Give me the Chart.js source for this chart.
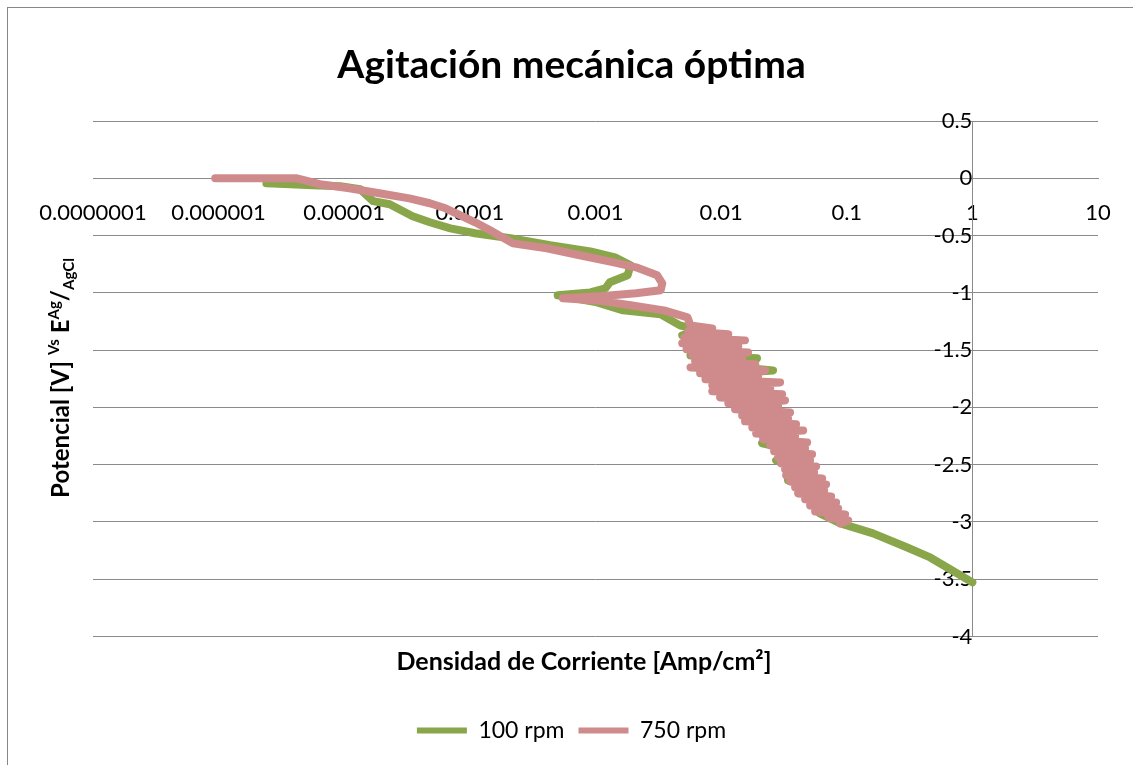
<!DOCTYPE html>
<html>
<head>
<meta charset="utf-8">
<script src="https://cdn.jsdelivr.net/npm/chart.js@4.4.1/dist/chart.umd.min.js"></script>
<style>
  html, body { margin: 0; padding: 0; background: #fff; }
  #wrap { width: 1133px; height: 765px; }
</style>
</head>
<body>
<div id="wrap"><canvas id="polChart" width="1133" height="765"></canvas></div>
<script>
const chartTitle = 'Agitación mecánica óptima';
const xTitle = 'Densidad de Corriente [Amp/cm²]';
const seriesNames = ['100 rpm', '750 rpm'];
const xTickValues = [1e-7, 1e-6, 1e-5, 1e-4, 1e-3, 1e-2, 1e-1, 1, 10];
const xTickLabels = ['0.0000001', '0.000001', '0.00001', '0.0001', '0.001', '0.01', '0.1', '1', '10'];

// 100 rpm : current density [A/cm2] and potential [V]
const cur100 = [2.4e-6, 3.7e-6, 5.6e-6, 9.3e-6, 1.34e-5, 1.7e-5, 2.3e-5, 3.5e-5, 4.8e-5, 7.0e-5,
  1.1e-4, 2.1e-4, 4.35e-4, 9.1e-4, 1.43e-3, 1.9e-3, 1.8e-3, 1.3e-3, 1.2e-3, 9.1e-4,
  5.0e-4, 1.03e-3, 1.66e-3, 3.3e-3, 4.7e-3,
  6.8e-3, 4.9e-3, 9.0e-3, 5.3e-3, 1.18e-2, 5.7e-3, 1.93e-2, 6.6e-3, 2.59e-2, 7.5e-3,
  1.7e-2, 9.0e-3, 2.04e-2, 1.04e-2, 2.24e-2, 1.34e-2, 2.69e-2, 1.93e-2, 3.23e-2, 2.12e-2,
  3.88e-2, 2.74e-2, 4.66e-2, 3.41e-2, 5.6e-2, 4.8e-2, 6.73e-2, 6.1e-2, 8.9e-2,
  0.162, 0.303, 0.461, 0.63, 1.0];
const pot100 = [-0.044, -0.052, -0.061, -0.07, -0.096, -0.2, -0.227, -0.332, -0.384, -0.437,
  -0.48, -0.524, -0.585, -0.638, -0.69, -0.76, -0.847, -0.908, -0.96, -0.996,
  -1.022, -1.083, -1.153, -1.188, -1.284,
  -1.328, -1.371, -1.415, -1.459, -1.502, -1.546, -1.572, -1.616, -1.677, -1.72,
  -1.764, -1.808, -1.852, -1.895, -1.939, -1.983, -2.07, -2.14, -2.201, -2.314,
  -2.376, -2.463, -2.55, -2.638, -2.707, -2.786, -2.856, -2.926, -3.013,
  -3.1, -3.223, -3.31, -3.397, -3.528];

// 750 rpm
const cur750 = [9.4e-7, 4.2e-6, 6.4e-6, 1.1e-5, 1.9e-5, 3.3e-5, 4.8e-5, 6.4e-5, 8.4e-5, 1.1e-4,
  1.45e-4, 2.2e-4, 4.1e-4, 7.5e-4, 1.4e-3, 2.1e-3, 3.1e-3, 3.4e-3, 3.3e-3, 2.1e-3,
  1.09e-3, 5.5e-4, 1.03e-3, 1.9e-3, 3.5e-3, 5.4e-3,
  5.7e-3, 8.5e-3, 5.5e-3, 1.14e-2, 5.1e-3, 1.55e-2, 4.9e-3, 1.37e-2, 5.3e-3, 1.64e-2,
  5.9e-3, 1.47e-2, 6.2e-3, 1.87e-2, 5.7e-3, 2.24e-2, 6.8e-3, 1.97e-2, 7.5e-3, 2.95e-2,
  8.5e-3, 2.46e-2, 8.5e-3, 3.06e-2, 9.8e-3, 3.23e-2, 1.14e-2, 2.84e-2, 1.29e-2, 3.54e-2,
  1.47e-2, 3.41e-2, 1.55e-2, 3.95e-2, 1.77e-2, 4.5e-2, 1.9e-2, 3.88e-2, 2.16e-2, 4.84e-2,
  2.46e-2, 4.66e-2, 2.64e-2, 5.3e-2, 2.84e-2, 5.11e-2, 3.0e-2, 5.71e-2, 3.23e-2, 5.5e-2,
  3.29e-2, 6.37e-2, 3.54e-2, 6.85e-2, 3.88e-2, 6.61e-2, 4.1e-2, 7.51e-2, 4.66e-2, 8.23e-2,
  5.11e-2, 8.54e-2, 5.6e-2, 9.71e-2, 7.11e-2, 0.1026, 8.86e-2];
const pot750 = [0, 0, -0.052, -0.087, -0.131, -0.175, -0.218, -0.262, -0.323, -0.384,
  -0.454, -0.568, -0.611, -0.672, -0.734, -0.777, -0.847, -0.917, -0.978, -1.004,
  -1.03, -1.048, -1.066, -1.109, -1.153, -1.214,
  -1.284, -1.31, -1.336, -1.362, -1.389, -1.415, -1.441, -1.467, -1.493, -1.52,
  -1.546, -1.572, -1.598, -1.624, -1.651, -1.677, -1.703, -1.729, -1.755, -1.782,
  -1.808, -1.834, -1.86, -1.886, -1.913, -1.939, -1.965, -1.991, -2.017, -2.044,
  -2.07, -2.096, -2.122, -2.148, -2.175, -2.201, -2.227, -2.253, -2.279, -2.306,
  -2.332, -2.358, -2.384, -2.41, -2.437, -2.463, -2.489, -2.515, -2.541, -2.568,
  -2.594, -2.62, -2.646, -2.672, -2.699, -2.725, -2.751, -2.777, -2.803, -2.83,
  -2.856, -2.882, -2.908, -2.934, -2.961, -2.987, -3.013];

const toPoints = (xs, ys) => xs.map((x, i) => ({x: x, y: ys[i]}));

Chart.defaults.font.family = 'Lato';
Chart.defaults.color = '#000';

const gridGray = '#8a8a8a';

// axis titles with super/subscripts + outer frame
const extras = {
  id: 'extras',
  afterDraw(chart) {
    const ctx = chart.ctx;
    ctx.save();
    ctx.strokeStyle = '#878787';
    ctx.lineWidth = 1;
    ctx.strokeRect(7.5, 7.5, 1200, 800);

    ctx.fillStyle = '#000';
    ctx.font = 'bold 25px Lato';
    ctx.textAlign = 'center';
    ctx.textBaseline = 'middle';
    ctx.fillText(xTitle, 584, 662);

    const parts = [
      ['Potencial [V] ', 24, 0],
      ['Vs', 15, -10],
      [' E', 24, 0],
      ['Ag', 15, -10],
      ['/', 24, 0],
      ['AgCl', 15, 5]
    ];
    let total = 0;
    parts.forEach(p => { ctx.font = 'bold ' + p[1] + 'px Lato'; p.push(ctx.measureText(p[0]).width); total += p[3]; });
    ctx.translate(69, 378);
    ctx.rotate(-Math.PI / 2);
    ctx.textAlign = 'left';
    ctx.textBaseline = 'alphabetic';
    let x = -total / 2;
    parts.forEach(p => {
      ctx.font = 'bold ' + p[1] + 'px Lato';
      ctx.fillText(p[0], x, p[2]);
      x += p[3];
    });
    ctx.restore();
  }
};

new Chart(document.getElementById('polChart'), {
  type: 'scatter',
  data: {
    datasets: [{
      label: seriesNames[0],
      data: toPoints(cur100, pot100),
      borderColor: '#8aa64b',
      backgroundColor: '#8aa64b',
      order: 1
    }, {
      label: seriesNames[1],
      data: toPoints(cur750, pot750),
      borderColor: '#cf8b8b',
      backgroundColor: '#cf8b8b',
      order: 0
    }]
  },
  options: {
    responsive: false,
    animation: false,
    events: [],
    showLine: true,
    elements: {
      point: { radius: 0 },
      line: { borderWidth: 8, borderCapStyle: 'round', borderJoinStyle: 'round', tension: 0 }
    },
    layout: { padding: { left: 45, right: 35, top: 0, bottom: 13 } },
    plugins: {
      title: {
        display: true,
        text: chartTitle,
        font: { size: 39, weight: 'bold' },
        padding: { top: 41.6, bottom: 32.6 }
      },
      legend: {
        position: 'bottom',
        labels: {
          usePointStyle: true,
          pointStyle: 'line',
          pointStyleWidth: 50,
          boxWidth: 50,
          padding: 14,
          font: { size: 23 },
          sort: (a, b) => a.datasetIndex - b.datasetIndex,
          generateLabels: (chart) => Chart.defaults.plugins.legend.labels.generateLabels(chart)
            .map(l => Object.assign(l, { lineWidth: 6, pointStyle: 'line' }))
        }
      },
      tooltip: { enabled: false }
    },
    scales: {
      x: {
        type: 'logarithmic',
        position: { y: 0 },
        min: 1e-7,
        max: 10,
        afterBuildTicks: (scale) => { scale.ticks = xTickValues.map(v => ({ value: v })); },
        ticks: {
          autoSkip: false,
          maxRotation: 0,
          padding: 13,
          font: { size: 22 },
          callback: (v, i) => xTickLabels[i]
        },
        grid: { display: false },
        border: { display: true, color: gridGray, width: 1 }
      },
      y: {
        type: 'linear',
        position: { x: 1 },
        min: -4,
        max: 0.5,
        ticks: {
          stepSize: 0.5,
          padding: 25,
          font: { size: 22 },
          callback: (v) => String(Math.round(v * 10) / 10)
        },
        grid: { color: gridGray, lineWidth: 1, drawTicks: false },
        border: { display: true, color: gridGray, width: 1 }
      },
      padL: {
        type: 'linear', axis: 'y', position: 'left',
        grid: { display: false }, border: { display: false }, ticks: { display: false },
        afterFit: (s) => { s.width = 48; }
      },
      padB: {
        type: 'linear', axis: 'x', position: 'bottom',
        grid: { display: false }, border: { display: false }, ticks: { display: false },
        afterFit: (s) => { s.height = 68.5; }
      }
    }
  },
  plugins: [extras]
});
</script>
</body>
</html>
